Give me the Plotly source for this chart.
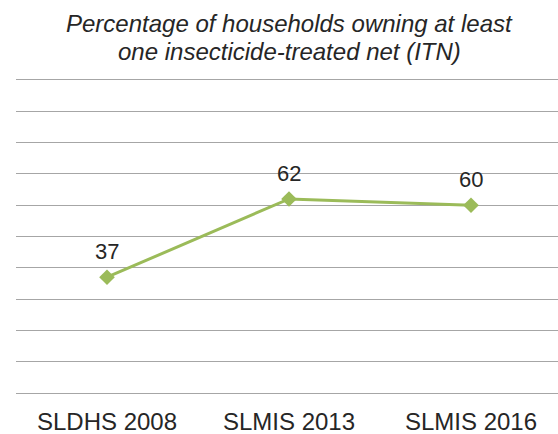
import plotly.graph_objects as go

categories = ["SLDHS 2008", "SLMIS 2013", "SLMIS 2016"]
values = [37, 62, 60]
title_lines = ["Percentage of households owning at least", "one insecticide-treated net (ITN)"]

GREEN = "#9BBB59"
GRID = "#A6A6A6"
TEXT = "#262626"
FONT = "Liberation Sans, Arial, sans-serif"

fig = go.Figure()
fig.add_trace(go.Scatter(
    x=categories, y=values,
    mode="lines+markers",
    line=dict(color=GREEN, width=3),
    marker=dict(symbol="diamond", size=12, color=GREEN),
    cliponaxis=False,
    showlegend=False,
))

for c, v in zip(categories, values):
    fig.add_annotation(
        x=c, y=v, text=str(v), showarrow=False,
        xanchor="center", yanchor="bottom", yshift=11,
        font=dict(family=FONT, size=22, color=TEXT),
    )

title_y = [1.182, 1.0895]
for line, ty in zip(title_lines, title_y):
    fig.add_annotation(
        text="<i>" + line + "</i>",
        xref="paper", yref="paper", x=0.5037, y=ty,
        xanchor="center", yanchor="middle", showarrow=False,
        font=dict(family=FONT, size=24, color=TEXT),
    )

fig.update_layout(
    width=558, height=434,
    margin=dict(l=16, r=0, t=80, b=41),
    paper_bgcolor="white", plot_bgcolor="white",
    xaxis=dict(type="category", range=[-0.5, 2.478], showgrid=False, zeroline=False,
               showline=True, mirror=True, linecolor=GRID, linewidth=1,
               ticks="", ticklabelstandoff=7, automargin=False,
               tickfont=dict(family=FONT, size=24, color=TEXT)),
    yaxis=dict(range=[0, 100], dtick=10, showgrid=True, gridcolor=GRID, gridwidth=1,
               zeroline=False, showline=False,
               showticklabels=False, ticks=""),
)

fig.write_html("out.html", config={"displayModeBar": False},
               post_script="document.body.style.margin='0';")
